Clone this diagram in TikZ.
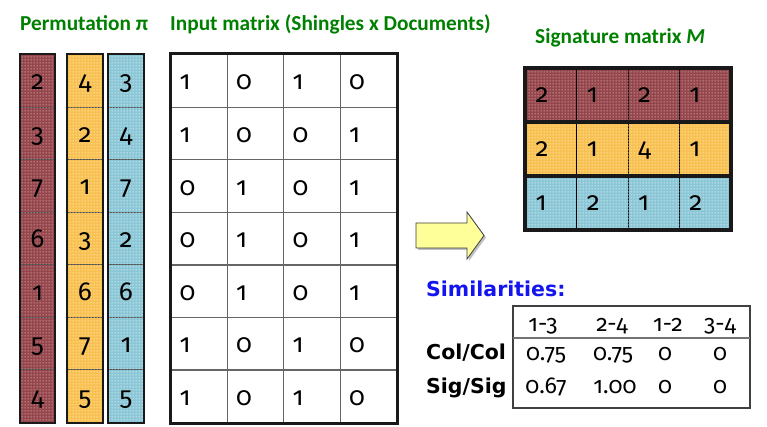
\documentclass[tikz,border=0pt]{standalone}
\usepackage{fontspec}
\setmainfont{Carlito}
\newfontfamily\digitfont[Numbers=OldStyle]{Fira Sans}
\newfontfamily\simfont{DejaVu Sans}
\usetikzlibrary{patterns.meta}

\definecolor{titlegreen}{RGB}{0,128,0}
\definecolor{simblue}{RGB}{20,20,240}
\definecolor{redbase}{RGB}{148,70,76}
\definecolor{reddot}{RGB}{215,170,170}
\definecolor{yelbase}{RGB}{248,192,80}
\definecolor{yeldot}{RGB}{255,238,180}
\definecolor{blubase}{RGB}{138,198,214}
\definecolor{bludot}{RGB}{222,242,248}
\definecolor{arrowfill}{RGB}{255,255,153}

% small square dots on a 3pt grid, used as a light texture over the cell colours
\tikzdeclarepattern{
  name=griddots,
  type=uncolored,
  bottom left={(0pt,0pt)},
  top right={(3pt,3pt)},
  tile size={(3pt,3pt)},
  code={\fill (0.7pt,0.7pt) rectangle (2.2pt,2.2pt);}
}

\tikzset{
  title/.style={anchor=base west, inner sep=0pt, text=titlegreen,
    font=\fontsize{21.3}{25}\selectfont\bfseries},
  dotted cell/.style 2 args={fill=#1, postaction={pattern=griddots, pattern color=#2}},
  permcell/.style={draw=black!70, line width=1pt, minimum width=34pt,
    minimum height=52.57pt, inner sep=0pt, anchor=north west,
    text height=18pt, text depth=0pt, font=\digitfont\fontsize{26}{28}\selectfont},
  incell/.style={draw=black!60, line width=1.3pt, minimum width=56.5pt,
    minimum height=52.57pt, inner xsep=9pt, inner ysep=0pt, text width=38.5pt,
    align=left, anchor=north west, text height=18pt, text depth=0pt,
    font=\digitfont\fontsize{26}{28}\selectfont},
  sigcell/.style={draw=black, line width=1pt, minimum width=51.25pt,
    minimum height=53.67pt, inner xsep=10pt, inner ysep=0pt, text width=31.25pt,
    align=left, anchor=north west, text height=15pt, text depth=0pt,
    font=\digitfont\fontsize{26}{28}\selectfont},
  outerbox/.style={draw=black!90, line width=2.6pt},
  rowlabel/.style={anchor=base west, inner sep=0pt, font=\simfont\fontsize{20.5}{24}\selectfont\bfseries},
  simval/.style={anchor=base, inner sep=0pt, font=\digitfont\fontsize{23}{25}\selectfont},
}

\begin{document}
\begin{tikzpicture}[x=1pt,y=-1pt]
\path[use as bounding box, fill=white] (0,0) rectangle (767,427);

% headings
\node[title] (tperm) at (20,31) {Permutation π};
\node[title] (tinput) at (170,31) {Input matrix (Shingles x Documents)};
\node[title] (tsig) at (535,44) {Signature matrix \textit{M}};

% permutation columns
\foreach \v [count=\i from 0] in {2,3,7,6,1,5,4}
  \node[permcell, dotted cell={redbase}{reddot}] (pr\i) at (20,54+52.57*\i) {\v};
\foreach \v [count=\i from 0] in {4,2,1,3,6,7,5}
  \node[permcell, minimum width=35pt, dotted cell={yelbase}{yeldot}] (py\i) at (67,54+52.57*\i) {\v};
\foreach \v [count=\i from 0] in {3,4,7,2,6,1,5}
  \node[permcell, minimum width=35pt, dotted cell={blubase}{bludot}] (pb\i) at (108,54+52.57*\i) {\v};
\foreach \c in {pr,py,pb}
  \draw[outerbox] (\c0.north west) rectangle (\c6.south east);

% input matrix
\foreach \row [count=\r from 0] in {{1,0,1,0},{1,0,0,1},{0,1,0,1},{0,1,0,1},{0,1,0,1},{1,0,1,0},{1,0,1,0}}
  \foreach \v [count=\c from 0] in \row
    \node[incell] (m\r\c) at (170+56.5*\c,54+52.57*\r) {\v};
\draw[outerbox, line width=3pt] (m00.north west) rectangle (m63.south east);

% signature matrix
\foreach \v [count=\c from 0] in {2,1,2,1}
  \node[sigcell, dotted cell={redbase}{reddot}] (s0\c) at (525+51.25*\c,68) {\v};
\foreach \v [count=\c from 0] in {2,1,4,1}
  \node[sigcell, dotted cell={yelbase}{yeldot}] (s1\c) at (525+51.25*\c,121.67) {\v};
\foreach \v [count=\c from 0] in {1,2,1,2}
  \node[sigcell, dotted cell={blubase}{bludot}] (s2\c) at (525+51.25*\c,175.33) {\v};
\foreach \r in {0,1,2}
  \draw[outerbox, line width=3.4pt] (s\r0.north west) rectangle (s\r3.south east);

% block arrow
\fill[black!25] (418,225) -- (469,225) -- (469,214) -- (486,237.5) -- (469,261) -- (469,250) -- (418,250) -- cycle;
\filldraw[fill=arrowfill, draw=black!75, line width=0.8pt]
  (416,223) -- (467,223) -- (467,212) -- (484,235.5) -- (467,259) -- (467,248) -- (416,248) -- cycle;

% similarities
\node[rowlabel, text=simblue] (tsim) at (426,296) {Similarities:};
\draw[draw=black!75, line width=1.5pt] (513,306) rectangle (750,408);
\draw[draw=black!55, line width=1.2pt] (513,338) -- (750,338);
\node[simval] (h1) at (543,331) {1-3};
\node[simval] (h2) at (612,331) {2-4};
\node[simval] (h3) at (668,331) {1-2};
\node[simval] (h4) at (720,331) {3-4};
\node[rowlabel] (rcol) at (426,359) {Col/Col};
\node[rowlabel] (rsig) at (426,393) {Sig/Sig};
\node[simval] (c1) at (546,360) {0.75};
\node[simval] (c2) at (613,360) {0.75};
\node[simval] (c3) at (665,360) {0};
\node[simval] (c4) at (720,360) {0};
\node[simval] (g1) at (546,393) {0.67};
\node[simval] (g2) at (615,393) {1.00};
\node[simval] (g3) at (665,393) {0};
\node[simval] (g4) at (720,393) {0};
\end{tikzpicture}
\end{document}
